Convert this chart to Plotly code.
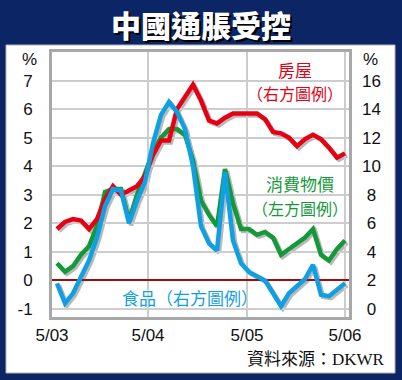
import plotly.graph_objects as go

# ---------------- data ----------------
# month index: 0 = May 2003 ... 36 = May 2006
month_index = list(range(37))
tick_labels = ["5/03", "5/04", "5/05", "5/06"]

# CPI (消費物價, left axis, %)
cpi = [0.6, 0.3, 0.5, 0.9, 1.2, 1.9, 3.1, 3.2, 3.2, 2.1, 3.0, 3.8,
       4.5, 5.0, 5.3, 5.3, 5.1, 4.2, 2.8, 2.3, 1.9, 3.9, 2.7, 1.8,
       1.8, 1.6, 1.7, 1.5, 0.9, 1.1, 1.3, 1.5, 1.8, 0.9, 0.7, 1.1, 1.4]

# Food (食品, right axis, %)
food = [1.8, 0.4, 1.1, 2.2, 3.4, 5.0, 7.2, 8.4, 8.3, 6.0, 7.6, 8.9,
        11.6, 13.6, 14.5, 13.8, 12.6, 10.0, 5.8, 4.6, 4.1, 9.6, 4.8, 3.2,
        2.6, 2.3, 2.0, 1.1, 0.2, 1.1, 1.6, 2.1, 3.1, 1.0, 0.9, 1.4, 1.8]

# Housing (房屋, right axis, %)
housing = [5.6, 6.1, 6.3, 6.2, 5.6, 6.3, 7.7, 8.6, 8.0, 8.3, 8.6, 9.3,
           10.8, 11.8, 11.8, 14.0, 14.8, 15.7, 14.6, 13.2, 13.0, 13.4, 13.7, 13.7,
           13.7, 13.7, 13.3, 12.4, 12.3, 12.0, 11.4, 11.9, 12.2, 11.9, 11.3, 10.6, 10.9]

left_ticks = [-1, 0, 1, 2, 3, 4, 5, 6, 7]
right_ticks = [0, 2, 4, 6, 8, 10, 12, 14, 16]

# ---------------- layout helpers ----------------
W, H = 402, 380
ML, MR, MT, MB = 52, 51, 52, 61
PW, PH = W - ML - MR, H - MT - MB
BASE = H - MB


def px(x):
    return (x - ML) / PW


def py(y):
    return (BASE - y) / PH


DX, DY = 2 / PW, 2 / PH
XR = [-0.625, 36.5]
LR = [-1.28, 8.0]
RR = [2 * (LR[0] + 1), 2 * (LR[1] + 1)]
tick_pos = [-0.625, 11.375, 23.75, 36.0]

RED, GREEN, BLUE = "#e60012", "#14993a", "#0fa0e4"
SHADOW = "#b8b8b8"
GRID = "#cdcdcd"
BORDER = "#a8a8a8"
NAVY = "#0c2565"
LW = 4.5

fig = go.Figure()

# shadows (drawn first, on shifted hidden axes)
fig.add_trace(go.Scatter(x=month_index, y=cpi, xaxis="x", yaxis="y", mode="lines",
                         line=dict(color=SHADOW, width=LW), hoverinfo="skip", showlegend=False))
fig.add_trace(go.Scatter(x=month_index, y=housing, xaxis="x", yaxis="y2", mode="lines",
                         line=dict(color=SHADOW, width=LW), hoverinfo="skip", showlegend=False))
fig.add_trace(go.Scatter(x=month_index, y=food, xaxis="x", yaxis="y2", mode="lines",
                         line=dict(color=SHADOW, width=LW), hoverinfo="skip", showlegend=False))

# main lines
fig.add_trace(go.Scatter(x=month_index, y=cpi, xaxis="x2", yaxis="y3", mode="lines",
                         line=dict(color=GREEN, width=LW), name="消費物價", showlegend=False))
fig.add_trace(go.Scatter(x=month_index, y=housing, xaxis="x2", yaxis="y4", mode="lines",
                         line=dict(color=RED, width=LW), name="房屋", showlegend=False))
fig.add_trace(go.Scatter(x=month_index, y=food, xaxis="x2", yaxis="y4", mode="lines",
                         line=dict(color=BLUE, width=LW), name="食品", showlegend=False))

tickfont = dict(family="Liberation Sans, Arial, sans-serif", size=17, color="#111111")

fig.update_layout(
    width=W, height=H, autosize=False,
    margin=dict(l=ML, r=MR, t=MT, b=MB, pad=0),
    paper_bgcolor=NAVY, plot_bgcolor="rgba(0,0,0,0)",
    showlegend=False,
    xaxis=dict(domain=[DX, 1], range=XR, visible=False, anchor="y", fixedrange=True),
    yaxis=dict(domain=[0, 1 - DY], range=LR, visible=False, anchor="x", fixedrange=True),
    yaxis2=dict(range=RR, visible=False, overlaying="y", anchor="x", fixedrange=True),
    xaxis2=dict(domain=[0, 1 - DX], range=XR, anchor="y3",
                tickmode="array", tickvals=tick_pos, ticktext=tick_labels,
                showgrid=True, gridcolor=GRID, gridwidth=2, zeroline=False,
                showline=True, linecolor=BORDER, linewidth=3, mirror=True,
                ticks="", ticklabelstandoff=1, tickfont=tickfont, fixedrange=True),
    yaxis3=dict(domain=[DY, 1], range=LR, anchor="x2",
                tickmode="array", tickvals=left_ticks, ticktext=[str(v) for v in left_ticks],
                showgrid=True, gridcolor=GRID, gridwidth=2,
                zeroline=True, zerolinecolor="#a00d0d", zerolinewidth=2,
                showline=True, linecolor=BORDER, linewidth=3, mirror=True,
                ticks="", ticklabelstandoff=13, tickfont=tickfont, fixedrange=True),
    yaxis4=dict(range=RR, overlaying="y3", side="right", anchor="x2",
                tickmode="array", tickvals=right_ticks,
                ticktext=[("\u00a0" + str(v)) if v < 10 else str(v) for v in right_ticks],
                showgrid=False, zeroline=False, showline=False,
                ticks="", ticklabelstandoff=12, tickfont=tickfont, fixedrange=True),
    shapes=[dict(type="rect", xref="paper", yref="paper", layer="below",
                 x0=px(6), x1=px(395), y0=py(373), y1=py(45),
                 fillcolor="white", line=dict(color="#b5b5b5", width=1))],
)

cjk = "Noto Sans CJK TC, Noto Sans CJK SC, sans-serif"
halo = "0px 0px 2px #ffffff, 0px 0px 2px #ffffff"


def note(text, x, y, size, color, family=cjk, weight="normal", shadow="none", xanchor="center"):
    fig.add_annotation(text=text, xref="paper", yref="paper", x=px(x), y=py(y),
                       xanchor=xanchor, yanchor="middle", showarrow=False,
                       font=dict(family=family, size=size, color=color, weight=weight, shadow=shadow))


note("中國通脹受控", 201, 23.5, 30, "#ffffff", weight=900, shadow="2px 2px 0px #000000")
note("%", 29, 60, 17, "#111111", family="Liberation Sans, Arial, sans-serif")
note("%", 370, 60, 17, "#111111", family="Liberation Sans, Arial, sans-serif")
note("房屋", 295, 69, 17, RED, shadow=halo)
note("（右方圖例）", 295, 93, 16, RED, shadow=halo)
note("消費物價", 300, 183, 17, GREEN, shadow=halo)
note("（左方圖例）", 300, 208, 16, GREEN, shadow=halo)
note("食品（右方圖例）", 190, 297, 17, BLUE, shadow=halo)
note("資料來源：DKWR", 387, 359, 17, "#111111",
     family="Liberation Serif, Times New Roman, Noto Sans CJK TC, serif", xanchor="right")

fig.write_html("out.html", config={"displayModeBar": False},
               post_script="document.body.style.margin='0';document.body.style.padding='0';")
